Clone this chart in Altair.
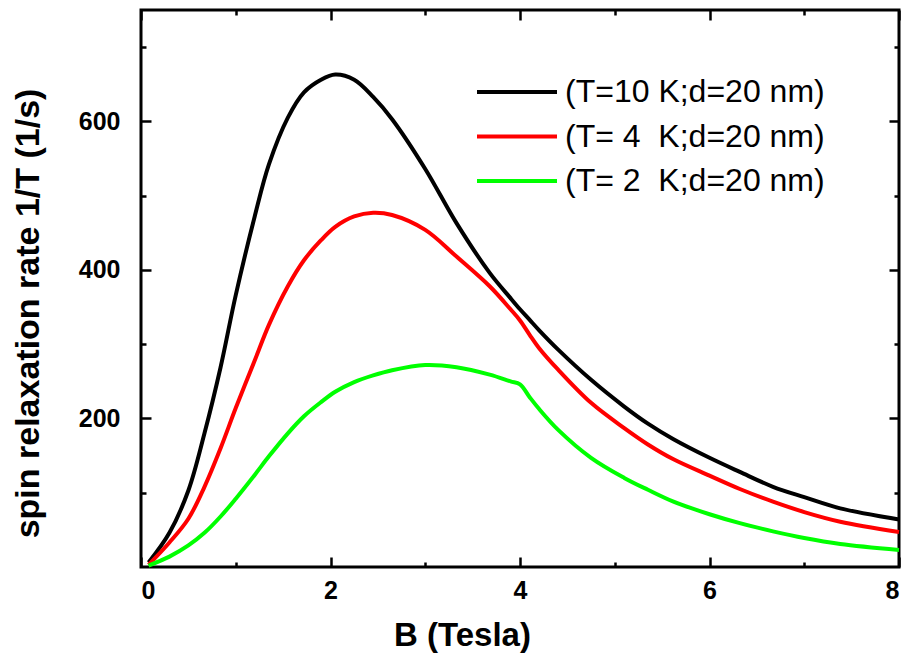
import altair as alt
import pandas as pd

# Magnetic field B (Tesla)
B = [0.08, 0.3, 0.5, 0.67, 0.84, 1.0, 1.2, 1.35, 1.55, 1.72, 1.9, 2.05, 2.25, 2.45, 2.65,
     3.0, 3.33, 3.68, 3.9, 4.0, 4.1, 4.2, 4.4, 4.75, 5.1, 5.35, 5.62, 6.0, 6.32, 6.67, 7.0, 7.38, 8.0]

# spin relaxation rate 1/T (1/s)
rate_T10 = [6, 46, 103, 180, 269, 366, 472, 542, 605, 639, 656, 663, 656, 633, 603,
            536, 463, 396, 362, 347, 333, 319, 293, 252, 216, 193, 172, 147, 128, 108, 94, 79, 64]
rate_T4 = [3, 33, 65, 108, 160, 214, 278, 326, 378, 413, 440, 458, 472, 477, 474,
           454, 418, 378, 347, 332, 313, 295, 266, 221, 187, 165, 145, 123, 105, 88, 74, 61, 47]
rate_T2 = [2, 14, 29, 46, 68, 92, 124, 149, 180, 203, 222, 236, 249, 258, 265,
           272, 269, 259, 250, 246, 229, 213, 185, 147, 120, 104, 88, 71, 59, 48, 39, 31, 23]

series_names = ["(T=10 K;d=20 nm)", "(T= 4\u00a0 K;d=20 nm)", "(T= 2\u00a0 K;d=20 nm)"]
series_colors = ["#000000", "#ff0000", "#00ff00"]

x_major = [0, 2, 4, 6, 8]
x_minor = [1, 3, 5, 7]
y_major = [200, 400, 600]
y_minor = [100, 300, 500, 700]

rows = []
for name, vals in zip(series_names, [rate_T10, rate_T4, rate_T2]):
    for b, v in zip(B, vals):
        rows.append({"B": b, "rate": v, "series": name})
df = pd.DataFrame(rows)

FONT = "Liberation Sans"
xscale = alt.Scale(domain=[0, 8], nice=False, zero=False)
yscale = alt.Scale(domain=[0, 750], nice=False)

MAJ = 10
MIN = 5


def tick_axis(orient, values, size, labels=False, **kw):
    return alt.Axis(orient=orient, values=values, tickSize=size, offset=-size,
                    labels=labels, domain=False, grid=False, tickWidth=2.5,
                    tickColor="black", title=None if "title" not in kw else kw.pop("title"), **kw)


base = alt.Chart(df)

lines = base.mark_line(strokeWidth=4, interpolate="catmull-rom").encode(
    x=alt.X("B:Q", scale=xscale,
            axis=tick_axis("bottom", x_major, MAJ, labels=True, title="B (Tesla)",
                           labelFont=FONT, labelFontSize=25, labelFontWeight="bold",
                           labelColor="black", labelPadding=11,
                           titleFont=FONT, titleFontSize=33, titleFontWeight="bold",
                           titleColor="black", titleX=321, titleY=88,
                           titleBaseline="alphabetic", titleAlign="center")),
    y=alt.Y("rate:Q", scale=yscale,
            axis=tick_axis("left", y_major, MAJ, labels=True,
                           title="spin relaxation rate 1/T (1/s)",
                           labelFont=FONT, labelFontSize=25, labelFontWeight="bold",
                           labelColor="black", labelPadding=21,
                           titleFont=FONT, titleFontSize=34, titleFontWeight="bold",
                           titleColor="black", titleX=-113, titleY=303,
                           titleBaseline="alphabetic", titleAlign="center", titleAngle=-90)),
    color=alt.Color("series:N",
                    scale=alt.Scale(domain=series_names, range=series_colors),
                    legend=alt.Legend(title=None, orient="none", legendX=360, legendY=66,
                                      symbolType="M-4,0H4", symbolSize=400,
                                      symbolStrokeWidth=4, symbolFillColor="transparent",
                                      labelFont=FONT,
                                      labelFontSize=32, labelColor="black",
                                      labelLimit=0, labelOffset=32, rowPadding=12.5)),
    order=alt.Order("series:N"),
)


def ghost(xo, xv, xs, yo, yv, ys):
    return base.mark_line(opacity=0).encode(
        x=alt.X("B:Q", scale=xscale, axis=tick_axis(xo, xv, xs)),
        y=alt.Y("rate:Q", scale=yscale, axis=tick_axis(yo, yv, ys)),
        detail="series:N",
    )


chart = alt.layer(
    lines,
    ghost("top", x_major, MAJ, "right", y_major, MAJ),
    ghost("bottom", x_minor, MIN, "left", y_minor, MIN),
    ghost("top", x_minor, MIN, "right", y_minor, MIN),
).resolve_axis(x="independent", y="independent").properties(
    width=758, height=557,
    autosize=alt.AutoSizeParams(type="none"),
    padding={"left": 141, "top": 10, "right": 11, "bottom": 93},
    background="white",
).configure_view(stroke="black", strokeWidth=3)

chart.save("out.html", embed_options={"renderer": "svg", "actions": False})
